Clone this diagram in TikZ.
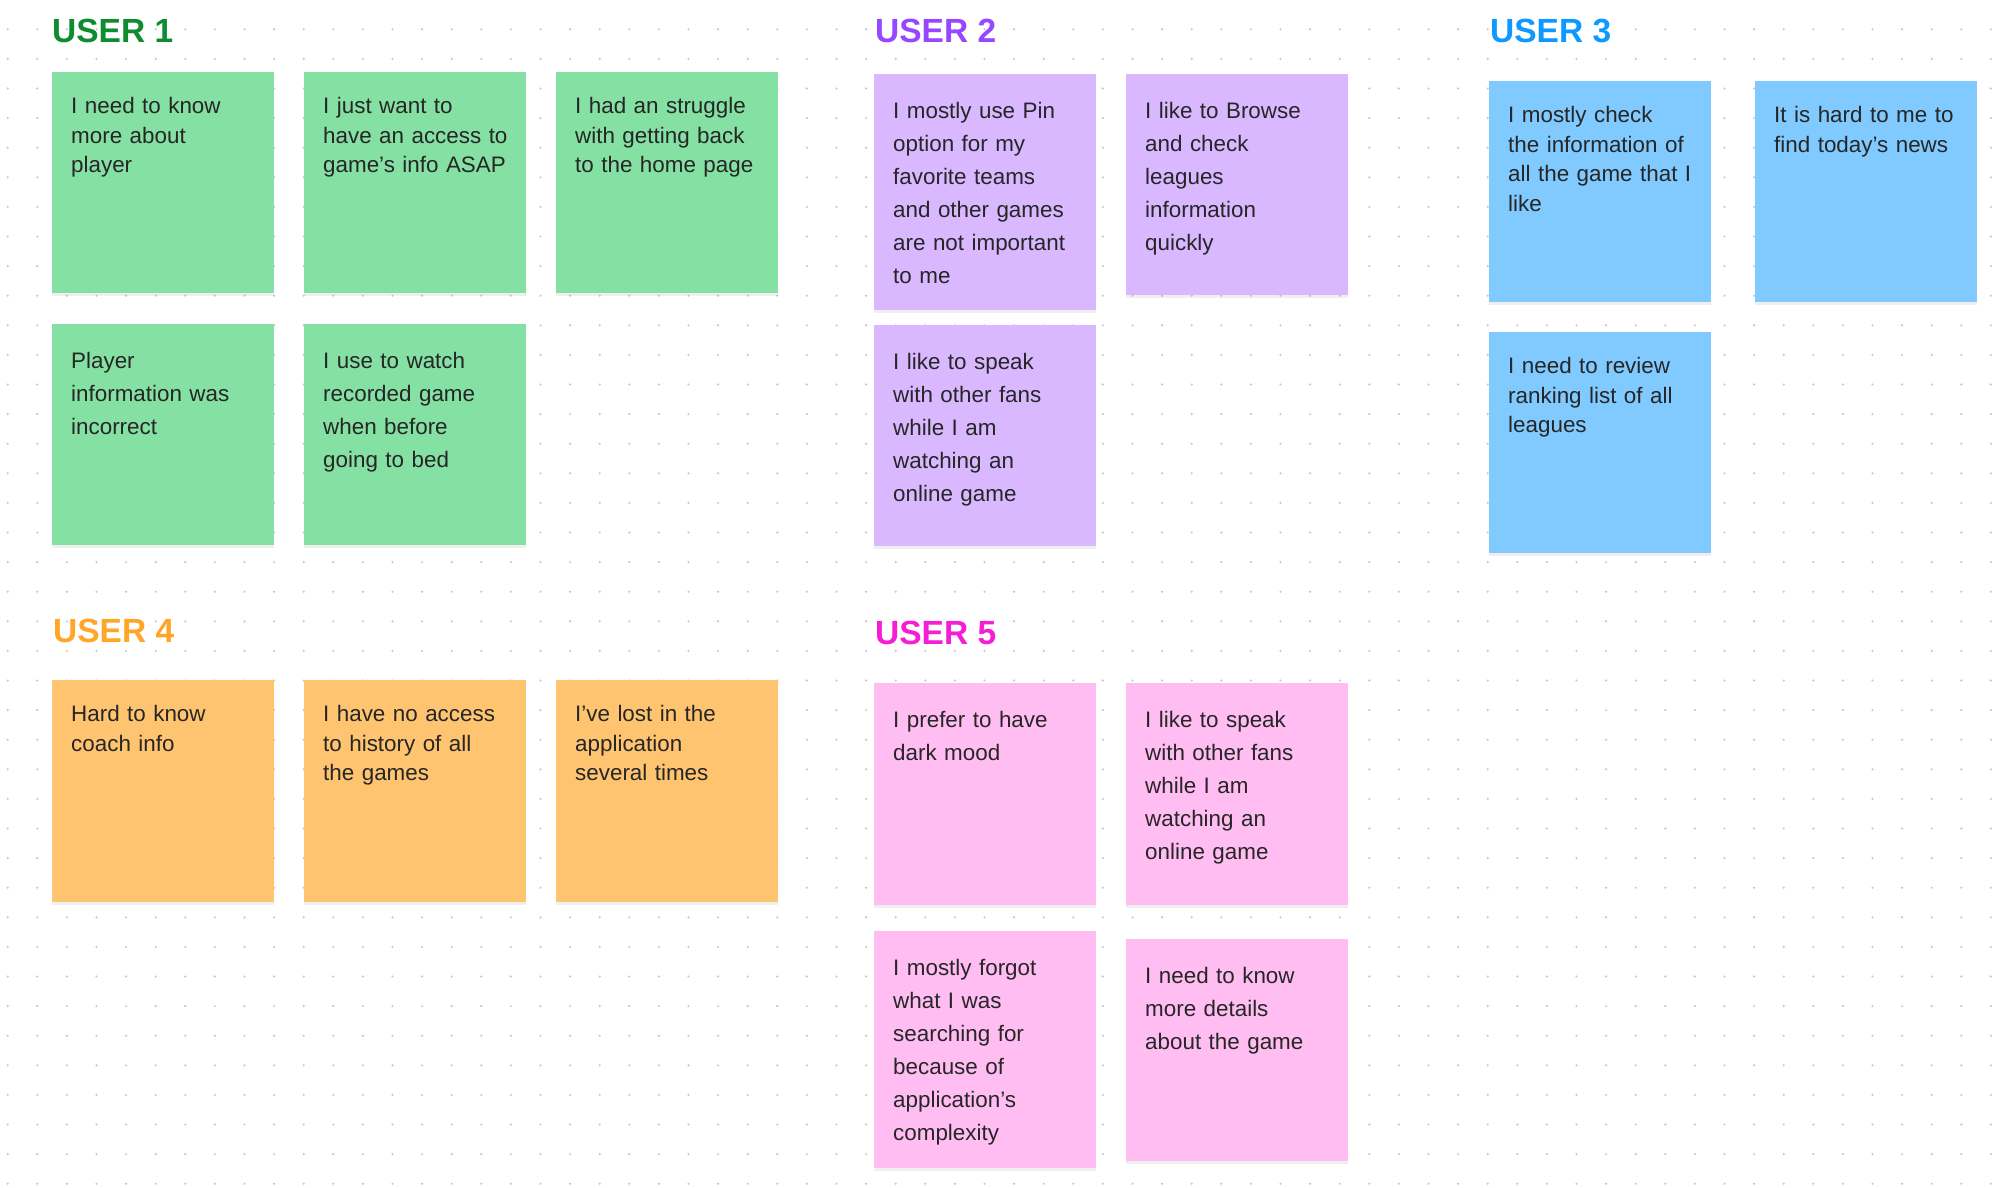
\documentclass[tikz,border=0pt]{standalone}
\usepackage{fontspec}
\setmainfont{Liberation Sans}
\usepackage{tikz}
\usetikzlibrary{positioning}
\usetikzlibrary{shadows}
\definecolor{grn}{RGB}{133,224,163}
\definecolor{prp}{RGB}{217,184,255}
\definecolor{blu}{RGB}{128,202,255}
\definecolor{org}{RGB}{255,196,112}
\definecolor{pnk}{RGB}{255,189,242}
\definecolor{grnt}{RGB}{16,140,48}
\definecolor{prpt}{RGB}{151,71,255}
\definecolor{blut}{RGB}{13,153,255}
\definecolor{orgt}{RGB}{255,166,41}
\definecolor{pnkt}{RGB}{245,30,212}
\definecolor{ink}{RGB}{38,38,38}
\definecolor{dotc}{RGB}{200,200,200}
\tikzset{note/.style={anchor=north west,minimum width=222,minimum height=221,inner sep=0,draw=none,
  drop shadow={opacity=0.12,shadow xshift=0pt,shadow yshift=-3pt}}}
\tikzset{notetxt/.style={inner sep=0,text width=215,align=left,text=ink}}
\tikzset{tight/.style={notetxt,font=\fontsize{22.4}{29.5}\selectfont}}
\tikzset{loose/.style={notetxt,font=\fontsize{22.4}{33}\selectfont}}
\tikzset{ttl/.style={anchor=base west,inner sep=0,font=\fontsize{33.5}{34}\selectfont\bfseries}}

\begin{document}
\begin{tikzpicture}[x=1pt,y=-1pt]
\useasboundingbox (0,0) rectangle (2000,1188);
\fill[white] (0,0) rectangle (2000,1188);
\foreach \i in {0,...,67}
  \foreach \j in {0,...,39}
    \fill[dotc] (7.7+29.6*\i,29.3+29.6*\j) circle (1.2pt);

\node[ttl,text=grnt] (t1) at (52,43) {USER 1};
\node[ttl,text=prpt] (t2) at (875,43) {USER 2};
\node[ttl,text=blut] (t3) at (1490,43) {USER 3};
\node[ttl,text=orgt] (t4) at (53,642) {USER 4};
\node[ttl,text=pnkt] (t5) at (875,644) {USER 5};

\node[note,fill=grn] (u1a) at (52,72) {};
\node[note,fill=grn] (u1b) at (304,72) {};
\node[note,fill=grn] (u1c) at (556,72) {};
\node[note,fill=grn] (u1d) at (52,324) {};
\node[note,fill=grn] (u1e) at (304,324) {};
\node[tight,below right=21pt and 19pt of u1a.north west] (u1a-t) {\strut I need to know\\more about\\player};
\node[tight,below right=21pt and 19pt of u1b.north west] (u1b-t) {\strut I just want to\\have an access to\\game’s info ASAP};
\node[tight,below right=21pt and 19pt of u1c.north west] (u1c-t) {\strut I had an struggle\\with getting back\\to the home page};
\node[loose,below right=21pt and 19pt of u1d.north west] (u1d-t) {\strut Player\\information was\\incorrect};
\node[loose,below right=21pt and 19pt of u1e.north west] (u1e-t) {\strut I use to watch\\recorded game\\when before\\going to bed};

\node[note,fill=prp,minimum height=236] (u2a) at (874,74) {};
\node[note,fill=prp] (u2b) at (1126,74) {};
\node[note,fill=prp] (u2c) at (874,325) {};
\node[loose,below right=21pt and 19pt of u2a.north west] (u2a-t) {\strut I mostly use Pin\\option for my\\favorite teams\\and other games\\are not important\\to me};
\node[loose,below right=21pt and 19pt of u2b.north west] (u2b-t) {\strut I like to Browse\\and check\\leagues\\information\\quickly};
\node[loose,below right=21pt and 19pt of u2c.north west] (u2c-t) {\strut I like to speak\\with other fans\\while I am\\watching an\\online game};

\node[note,fill=blu] (u3a) at (1489,81) {};
\node[note,fill=blu] (u3b) at (1755,81) {};
\node[note,fill=blu] (u3c) at (1489,332) {};
\node[tight,below right=21pt and 19pt of u3a.north west] (u3a-t) {\strut I mostly check\\the information of\\all the game that I\\like};
\node[tight,below right=21pt and 19pt of u3b.north west] (u3b-t) {\strut It is hard to me to\\find today’s news};
\node[tight,below right=21pt and 19pt of u3c.north west] (u3c-t) {\strut I need to review\\ranking list of all\\leagues};

\node[note,fill=org,minimum height=222] (u4a) at (52,680) {};
\node[note,fill=org,minimum height=222] (u4b) at (304,680) {};
\node[note,fill=org,minimum height=222] (u4c) at (556,680) {};
\node[tight,below right=21pt and 19pt of u4a.north west] (u4a-t) {\strut Hard to know\\coach info};
\node[tight,below right=21pt and 19pt of u4b.north west] (u4b-t) {\strut I have no access\\to history of all\\the games};
\node[tight,below right=21pt and 19pt of u4c.north west] (u4c-t) {\strut I’ve lost in the\\application\\several times};

\node[note,fill=pnk,minimum height=222] (u5a) at (874,683) {};
\node[note,fill=pnk,minimum height=222] (u5b) at (1126,683) {};
\node[note,fill=pnk,minimum height=237] (u5c) at (874,931) {};
\node[note,fill=pnk,minimum height=222] (u5d) at (1126,939) {};
\node[loose,below right=21pt and 19pt of u5a.north west] (u5a-t) {\strut I prefer to have\\dark mood};
\node[loose,below right=21pt and 19pt of u5b.north west] (u5b-t) {\strut I like to speak\\with other fans\\while I am\\watching an\\online game};
\node[loose,below right=21pt and 19pt of u5c.north west] (u5c-t) {\strut I mostly forgot\\what I was\\searching for\\because of\\application’s\\complexity};
\node[loose,below right=21pt and 19pt of u5d.north west] (u5d-t) {\strut I need to know\\more details\\about the game};
\end{tikzpicture}
\end{document}
